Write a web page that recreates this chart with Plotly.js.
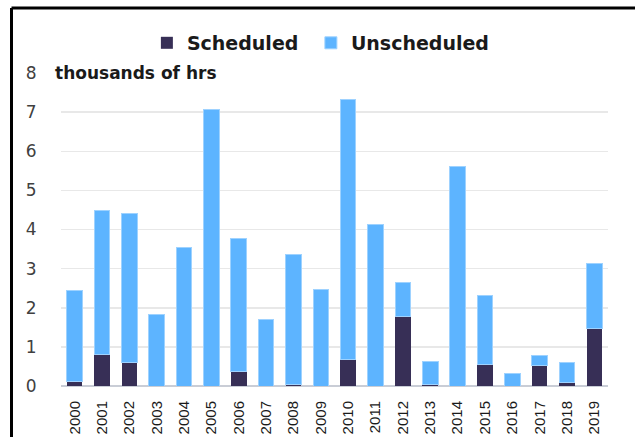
<!DOCTYPE html>
<html>
<head>
<meta charset="utf-8">
<script src="https://cdn.plot.ly/plotly-3.0.1.min.js"></script>
<style>
  html, body { margin: 0; padding: 0; background: #fff; }
  #chart { width: 635px; height: 437px; }
</style>
</head>
<body>
<div id="chart"></div>
<script>
// Data (thousands of hours)
const years = ["2000","2001","2002","2003","2004","2005","2006","2007","2008","2009",
               "2010","2011","2012","2013","2014","2015","2016","2017","2018","2019"];
const totals = [2.43, 4.48, 4.40, 1.84, 3.55, 7.07, 3.77, 1.70, 3.37, 2.46,
                7.32, 4.13, 2.64, 0.63, 5.60, 2.32, 0.33, 0.78, 0.60, 3.13];
const scheduled = [0.12, 0.81, 0.59, 0, 0, 0, 0.38, 0, 0.03, 0,
                   0.68, 0, 1.77, 0.05, 0, 0.54, 0, 0.52, 0.09, 1.48];
const unscheduled = totals.map((t, i) => +(t - scheduled[i]).toFixed(2));
const yTicks = [0, 1, 2, 3, 4, 5, 6, 7, 8];

const traces = [
  {
    type: 'bar', name: 'Scheduled', x: years, y: scheduled,
    marker: { color: '#372F56', line: { width: 0 } },
    legendwidth: 119,
    hoverinfo: 'skip'
  },
  {
    type: 'bar', name: 'Unscheduled', x: years, y: unscheduled,
    marker: { color: '#5DB4FF', line: { width: 1, color: '#9ED2FF' } },
    hoverinfo: 'skip'
  }
];

const layout = {
  width: 635, height: 437,
  margin: { l: 61, r: 27, t: 73, b: 51 },
  paper_bgcolor: '#fff', plot_bgcolor: '#fff',
  barmode: 'stack', bargap: 0.43,
  showlegend: true,
  legend: {
    orientation: 'h', traceorder: 'normal',
    x: 0.157, xanchor: 'left', y: 1.096, yanchor: 'middle',
    font: { family: 'DejaVu Sans', size: 19, color: '#1a1a1a', weight: 'bold' },
    bgcolor: 'rgba(0,0,0,0)'
  },
  xaxis: {
    type: 'category', tickangle: -90,
    tickfont: { family: 'Liberation Sans, Arial, sans-serif', size: 15, color: '#1a1a1a' },
    showgrid: false, zeroline: false, showline: false,
    ticks: 'outside', ticklen: 8, tickcolor: 'rgba(0,0,0,0)'
  },
  yaxis: {
    range: [0, 8], tickvals: yTicks, ticktext: yTicks.map(String),
    tickfont: { family: 'DejaVu Sans', size: 17, color: '#404040' },
    showgrid: true, gridcolor: '#e8e8e8', gridwidth: 1.5,
    zeroline: true, zerolinecolor: '#c9cdd6', zerolinewidth: 2,
    showline: false,
    ticks: 'outside', ticklen: 20, tickcolor: 'rgba(0,0,0,0)'
  },
  annotations: [{
    text: '<b>thousands of hrs</b>', xref: 'paper', yref: 'y',
    x: (52 - 61) / 547, y: 8, xanchor: 'left', yanchor: 'middle',
    showarrow: false, bgcolor: '#fff', borderpad: 2,
    font: { family: 'DejaVu Sans', size: 17, color: '#1a1a1a' }
  }],
  shapes: [
    { type: 'line', xref: 'paper', yref: 'paper',
      x0: (11.5 - 61) / 547, x1: (640 - 61) / 547,
      y0: (386 - 8) / 313, y1: (386 - 8) / 313,
      line: { color: '#000', width: 3 } },
    { type: 'line', xref: 'paper', yref: 'paper',
      x0: (11.5 - 61) / 547, x1: (11.5 - 61) / 547,
      y0: (386 - 8) / 313, y1: (386 - 445) / 313,
      line: { color: '#000', width: 3 } }
  ]
};

Plotly.newPlot('chart', traces, layout, { staticPlot: true, displayModeBar: false });
</script>
</body>
</html>
